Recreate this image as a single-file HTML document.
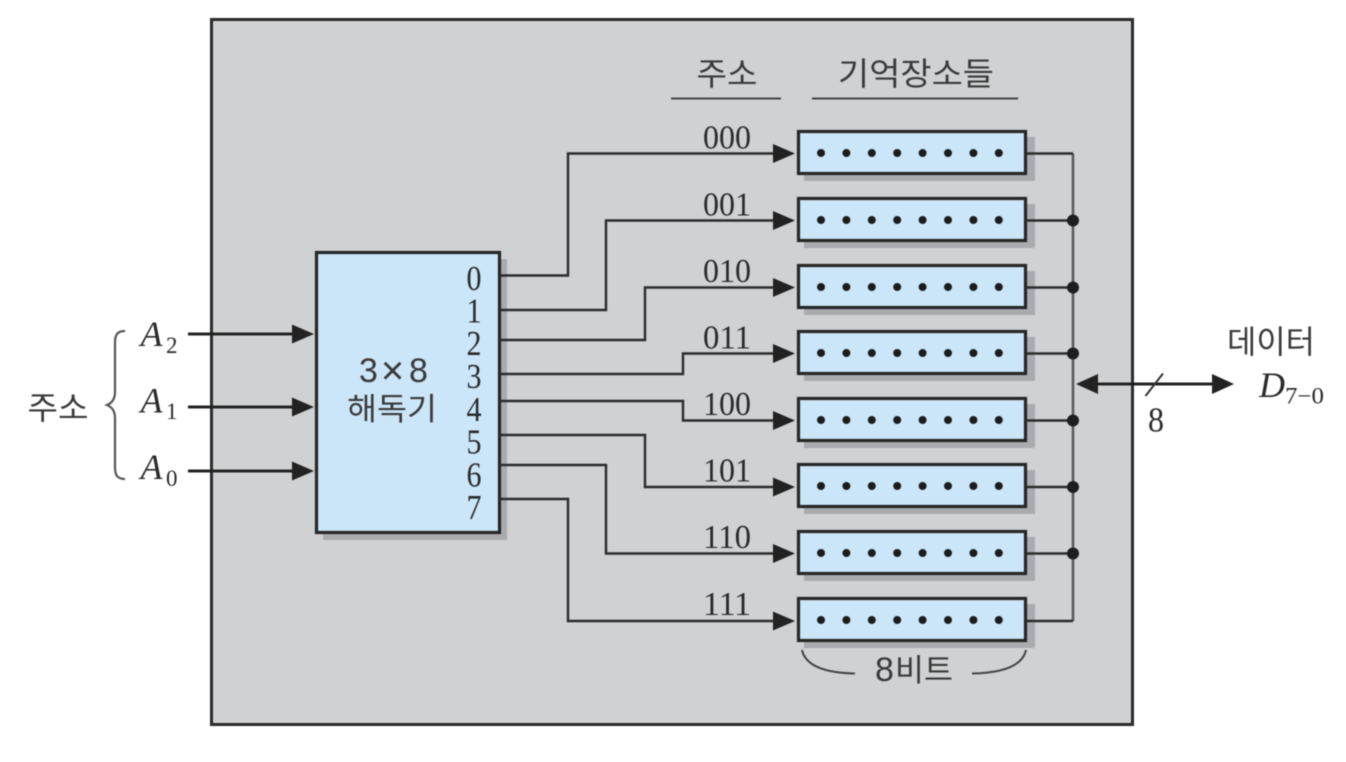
<!DOCTYPE html>
<html lang="ko">
<head>
<meta charset="utf-8">
<title>3×8 해독기 메모리</title>
<style>
html,body{margin:0;padding:0;background:#fff;width:1346px;height:762px;overflow:hidden}
svg{display:block;filter:blur(.45px)}
.k{font-family:"Liberation Sans","Noto Sans CJK KR",sans-serif;fill:#3a3a3a;font-weight:400}
.n{font-family:"Liberation Serif","Noto Serif CJK SC",serif;fill:#2a2a2a}
.i{font-style:italic}
.w{fill:none;stroke:#2b2b2b;stroke-width:2.4}
.b{fill:none;stroke:#5a5a5a;stroke-width:2.6}
</style>
</head>
<body>
<svg width="1346" height="762" viewBox="0 0 1346 762" xmlns="http://www.w3.org/2000/svg">
<defs>
<g id="row">
<rect x="804" y="137" width="231" height="44" fill="#a9abae"/>
<rect x="798.500" y="131.500" width="227" height="42" fill="#cbe6f8" stroke="#262626" stroke-width="3.2"/>
<line x1="821" y1="153" x2="1000" y2="153" stroke="#1c1c1c" stroke-width="8" stroke-linecap="round" stroke-dasharray="0 25.4"/>
</g>
<polygon id="ah" points="0,-9.5 22,0 0,9.5" fill="#222"/>
</defs>

<rect x="211.500" y="19.500" width="921" height="705" fill="#d0d1d3" stroke="#2a2a2a" stroke-width="3"/>

<!-- header -->
<text class="k" x="727" y="85" font-size="32" text-anchor="middle" textLength="61" lengthAdjust="spacingAndGlyphs">주소</text>
<text class="k" x="916" y="85" font-size="32" text-anchor="middle" textLength="156" lengthAdjust="spacingAndGlyphs">기억장소들</text>
<line x1="671" y1="98.500" x2="781" y2="98.500" stroke="#444" stroke-width="2"/>
<line x1="812" y1="98.500" x2="1018" y2="98.500" stroke="#444" stroke-width="2"/>

<!-- decoder -->
<rect x="323" y="259" width="184" height="281" fill="#a9abae"/>
<rect x="316.500" y="252.500" width="183" height="280" fill="#cbe6f8" stroke="#262626" stroke-width="3.2"/>
<g class="k" text-anchor="middle">
<text x="368.500" y="382" font-size="34">3</text>
<text x="392.500" y="384" font-size="40">×</text>
<text x="418.500" y="382" font-size="34">8</text>
</g>
<text class="k" x="392" y="420" font-size="31" text-anchor="middle" textLength="90" lengthAdjust="spacingAndGlyphs">해독기</text>
<g class="n" font-size="35">
<text x="466.500" y="290" textLength="15" lengthAdjust="spacingAndGlyphs">0</text>
<text x="466.500" y="322.500" textLength="15" lengthAdjust="spacingAndGlyphs">1</text>
<text x="466.500" y="355" textLength="15" lengthAdjust="spacingAndGlyphs">2</text>
<text x="466.500" y="388" textLength="15" lengthAdjust="spacingAndGlyphs">3</text>
<text x="466.500" y="421" textLength="15" lengthAdjust="spacingAndGlyphs">4</text>
<text x="466.500" y="453.500" textLength="15" lengthAdjust="spacingAndGlyphs">5</text>
<text x="466.500" y="486.500" textLength="15" lengthAdjust="spacingAndGlyphs">6</text>
<text x="466.500" y="519" textLength="15" lengthAdjust="spacingAndGlyphs">7</text>
</g>

<!-- memory rows -->
<use href="#row"/>
<use href="#row" y="67"/>
<use href="#row" y="134"/>
<use href="#row" y="200"/>
<use href="#row" y="267"/>
<use href="#row" y="333"/>
<use href="#row" y="400"/>
<use href="#row" y="467"/>

<!-- decoder to memory wires -->
<path class="w" d="M500 275.500H568V153.500H778" stroke-width="3"/>
<path class="w" d="M500 310H606V220.500H778"/>
<path class="w" d="M500 340H645V287.500H778"/>
<path class="w" d="M500 374H683V353.500H778"/>
<path class="w" d="M500 401H683V420.500H778"/>
<path class="w" d="M500 435H645V487H778"/>
<path class="w" d="M500 465H606V553.500H778"/>
<path class="w" d="M500 499H568V621H778"/>
<use href="#ah" x="773" y="153.500"/>
<use href="#ah" x="773" y="220.500"/>
<use href="#ah" x="773" y="287.500"/>
<use href="#ah" x="773" y="353.500"/>
<use href="#ah" x="773" y="420.500"/>
<use href="#ah" x="773" y="487"/>
<use href="#ah" x="773" y="553.500"/>
<use href="#ah" x="773" y="621"/>

<g class="n" font-size="34">
<text x="703" y="148.500" textLength="48" lengthAdjust="spacingAndGlyphs">000</text>
<text x="703" y="215.500" textLength="48" lengthAdjust="spacingAndGlyphs">001</text>
<text x="703" y="282" textLength="48" lengthAdjust="spacingAndGlyphs">010</text>
<text x="703" y="348.500" textLength="48" lengthAdjust="spacingAndGlyphs">011</text>
<text x="703" y="415" textLength="48" lengthAdjust="spacingAndGlyphs">100</text>
<text x="703" y="481.500" textLength="48" lengthAdjust="spacingAndGlyphs">101</text>
<text x="703" y="548" textLength="48" lengthAdjust="spacingAndGlyphs">110</text>
<text x="703" y="615" textLength="48" lengthAdjust="spacingAndGlyphs">111</text>
</g>

<!-- data bus -->
<path class="b" d="M1073 153.500V621"/>
<g stroke="#2b2b2b" stroke-width="2.4">
<line x1="1027" y1="153.500" x2="1073" y2="153.500"/>
<line x1="1027" y1="220.500" x2="1073" y2="220.500"/>
<line x1="1027" y1="287.500" x2="1073" y2="287.500"/>
<line x1="1027" y1="353.500" x2="1073" y2="353.500"/>
<line x1="1027" y1="420.500" x2="1073" y2="420.500"/>
<line x1="1027" y1="487" x2="1073" y2="487"/>
<line x1="1027" y1="553.500" x2="1073" y2="553.500"/>
<line x1="1027" y1="621" x2="1073" y2="621"/>
</g>
<g fill="#1e1e1e">
<circle cx="1073" cy="220.500" r="6"/>
<circle cx="1073" cy="287.500" r="6"/>
<circle cx="1073" cy="353.500" r="6"/>
<circle cx="1073" cy="420.500" r="6"/>
<circle cx="1073" cy="487" r="6"/>
<circle cx="1073" cy="553.500" r="6"/>
</g>

<!-- data arrow -->
<line x1="1090" y1="384" x2="1218" y2="384" stroke="#222" stroke-width="3"/>
<polygon points="1076,384 1098,374 1098,394" fill="#222"/>
<polygon points="1212,374 1234,384 1212,394" fill="#222"/>
<line x1="1145.500" y1="396" x2="1163" y2="373.500" stroke="#333" stroke-width="2"/>
<text class="n" x="1148" y="431.500" font-size="35" textLength="16" lengthAdjust="spacingAndGlyphs">8</text>
<text class="k" x="1271" y="353" font-size="32" text-anchor="middle" textLength="88" lengthAdjust="spacingAndGlyphs">데이터</text>
<text class="n i" x="1259" y="397" font-size="36">D</text>
<text class="n" x="1285" y="403.500" font-size="23" textLength="39" lengthAdjust="spacingAndGlyphs">7−0</text>

<!-- address inputs -->
<g stroke="#222" stroke-width="3">
<line x1="188" y1="334" x2="296" y2="334"/>
<line x1="188" y1="407" x2="296" y2="407"/>
<line x1="188" y1="471" x2="296" y2="471"/>
</g>
<use href="#ah" x="292" y="334"/>
<use href="#ah" x="292" y="407"/>
<use href="#ah" x="292" y="471"/>
<g class="n i" font-size="36">
<text x="140.500" y="346">A</text>
<text x="140.500" y="412.500">A</text>
<text x="140.500" y="479">A</text>
</g>
<g class="n" font-size="23">
<text x="166" y="353">2</text>
<text x="166" y="419">1</text>
<text x="166" y="486">0</text>
</g>
<text class="k" x="58" y="419" font-size="32" text-anchor="middle" textLength="61" lengthAdjust="spacingAndGlyphs">주소</text>
<path d="M125 331C117 331 115 335 115 343V392C115 399 112 403 107 405C112 407 115 411 115 418V467C115 475 117 479 125 479" fill="none" stroke="#555" stroke-width="2.200"/>

<!-- 8 bits brace -->
<path d="M802 650C806 668 830 673 855 673.500" fill="none" stroke="#444" stroke-width="2"/>
<path d="M1026 650C1022 668 998 673 972 673.500" fill="none" stroke="#444" stroke-width="2"/>
<text class="k" x="875" y="681" font-size="34">8</text>
<text class="k" x="895" y="681" font-size="31" textLength="58" lengthAdjust="spacingAndGlyphs">비트</text>
</svg>
</body>
</html>
